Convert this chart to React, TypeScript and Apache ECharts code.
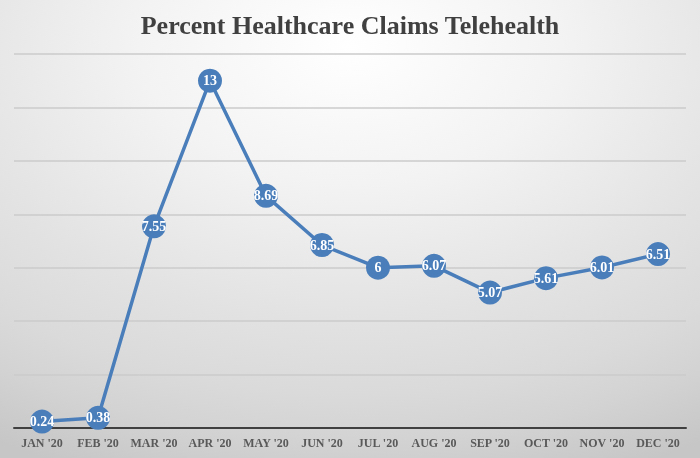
import React, { useEffect, useRef } from "react";
import * as echarts from "echarts";

const categories = ["JAN '20", "FEB '20", "MAR '20", "APR '20", "MAY '20", "JUN '20", "JUL '20", "AUG '20", "SEP '20", "OCT '20", "NOV '20", "DEC '20"];
const values = [0.24, 0.38, 7.55, 13, 8.69, 6.85, 6, 6.07, 5.07, 5.61, 6.01, 6.51];
const title = "Percent Healthcare Claims Telehealth";

export default function App() {
  const ref = useRef<HTMLDivElement>(null);
  useEffect(() => {
    document.body.style.margin = "0";
    const chart = echarts.init(ref.current!, null, { renderer: "svg" });
    chart.setOption({
      animation: false,
      backgroundColor: {
        type: "radial",
        x: 0.5,
        y: 0.1,
        r: 1,
        colorStops: [
          { offset: 0, color: "#ffffff" },
          { offset: 0.3, color: "#f3f3f3" },
          { offset: 0.6, color: "#e2e2e2" },
          { offset: 0.76, color: "#dadada" },
          { offset: 0.86, color: "#d3d3d3" },
          { offset: 1, color: "#c6c6c6" },
        ],
      },
      title: {
        text: title,
        left: "center",
        top: 7,
        textStyle: {
          fontFamily: "Liberation Serif",
          fontWeight: "bold",
          fontSize: 26,
          color: "#404040",
        },
      },
      grid: { left: 14, right: 14, top: 54, bottom: 30 },
      xAxis: {
        type: "category",
        data: categories,
        boundaryGap: true,
        axisTick: { show: false },
        axisLine: { lineStyle: { color: "#404040", width: 2 } },
        axisLabel: {
          interval: 0,
          margin: 9,
          fontFamily: "Liberation Serif",
          fontWeight: "bold",
          fontSize: 12,
          color: "#595959",
        },
      },
      yAxis: {
        type: "value",
        min: 0,
        max: 14,
        interval: 2,
        axisLabel: { show: false },
        axisLine: { show: false },
        axisTick: { show: false },
        splitLine: { lineStyle: { color: "#cbcbcb", width: 1.5 } },
      },
      series: [
        {
          type: "line",
          data: values,
          symbol: "circle",
          symbolSize: 24,
          itemStyle: { color: "#4a7ebb" },
          lineStyle: { color: "#4a7ebb", width: 3.5 },
          label: {
            show: true,
            position: "inside",
            color: "#ffffff",
            fontFamily: "Liberation Serif",
            fontWeight: "bold",
            fontSize: 14,
          },
        },
      ],
    });
    return () => chart.dispose();
  }, []);
  return <div ref={ref} style={{ position: "fixed", left: 0, top: 0, width: 700, height: 458 }} />;
}
